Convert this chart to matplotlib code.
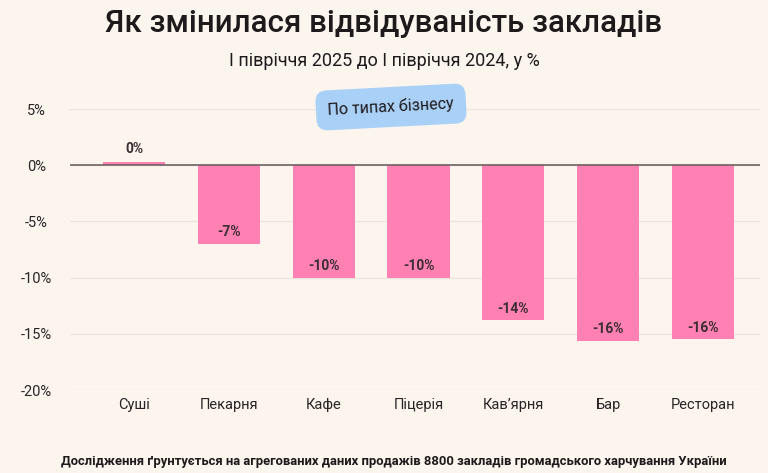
import matplotlib
matplotlib.use("Agg")
import matplotlib.pyplot as plt

plt.rcParams['font.family'] = ['Roboto', 'DejaVu Sans']

categories = ["Суші", "Пекарня", "Кафе", "Піцерія", "Кав’ярня", "Бар", "Ресторан"]
values = [0.3, -7.0, -10.0, -10.0, -13.8, -15.6, -15.5]
labels = ["0%", "-7%", "-10%", "-10%", "-14%", "-16%", "-16%"]
yticks = [5, 0, -5, -10, -15, -20]
ytick_labels = ["5%", "0%", "-5%", "-10%", "-15%", "-20%"]

bg = "#FBF5EE"
pink = "#FF80B3"
txt = "#2B2326"

fig = plt.figure(figsize=(7.68, 4.73), dpi=100, facecolor=bg)
ax = fig.add_axes([70/768, 83/473, (760-70)/768, (390-109)/473])
ax.set_facecolor(bg)

x = list(range(len(categories)))
ax.bar(x, values, width=0.655, color=pink, zorder=2)
ax.set_xlim(-0.675, 6.60)
ax.set_ylim(-20, 5)
ax.set_yticks(yticks)
ax.set_yticklabels(ytick_labels, fontsize=10.5, color=txt, ha='center')
ax.set_xticks(x)
ax.set_xticklabels(categories, fontsize=10.5, color=txt)
ax.tick_params(axis='both', length=0)
ax.tick_params(axis='y', pad=24)
ax.tick_params(axis='x', pad=6)
for s in ax.spines.values():
    s.set_visible(False)
ax.grid(axis='y', color="#ECE4DC", linewidth=0.9, zorder=0)
ax.axhline(0, color="#6E6363", linewidth=1.2, zorder=3)

for xi, v, lab in zip(x, values, labels):
    if v >= 0:
        ax.text(xi, v + 0.5, lab, ha='center', va='bottom', fontsize=10,
                fontweight='bold', color="#3A2F33", zorder=4)
    else:
        ax.text(xi, v + 1.05, lab, ha='center', va='center', fontsize=10,
                fontweight='bold', color="#3A2F33", zorder=4)

fig.text(0.5, 1 - 24/473, "Як змінилася відвідуваність закладів", ha='center',
         va='center', fontsize=22.5, fontweight='medium', color="#1E1A1B")
fig.text(0.5, 1 - 61/473, "І півріччя 2025 до І півріччя 2024, у %", ha='center',
         va='center', fontsize=13, color="#1E1A1B")

fig.text(391/768, 1 - 107/473, "По типах бізнесу", ha='center', va='center',
         fontsize=11.5, color="#1E1A1B", rotation=3,
         bbox=dict(boxstyle="round,pad=0.75,rounding_size=0.7", fc="#A9D0F7",
                   ec="none"), zorder=10)

fig.text(394/768, 1 - 461/473,
         "Дослідження ґрунтується на агрегованих даних продажів 8800 закладів громадського харчування України",
         ha='center', va='center', fontsize=9.4, fontweight='bold', color="#1E1A1B")

fig.savefig("out.png", dpi=100, facecolor=bg)
